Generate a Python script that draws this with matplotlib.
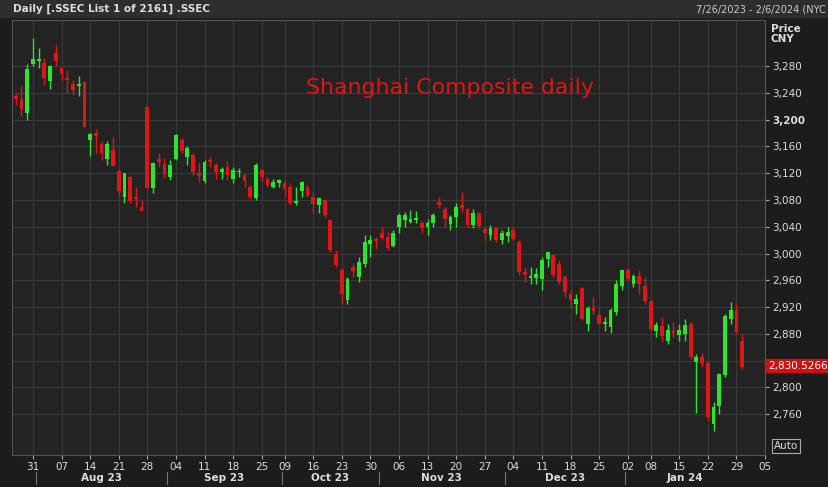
import matplotlib
matplotlib.use("Agg")
import matplotlib.pyplot as plt
import pandas as pd
from matplotlib.patches import Rectangle

dates = (list(pd.bdate_range("2023-07-26", "2023-09-28")) +
         list(pd.bdate_range("2023-10-09", "2023-12-29")) +
         list(pd.bdate_range("2024-01-02", "2024-01-30")))
opens = [3236,3231,3210,3283,3288,3285,3258,3300,3277,3262,3254,3250,3257,3170,3180,3163,3142,3155,3124,3085,3115,3085,3070,3219,3098,3142,3134,3115,3141,3170,3145,3148,3120,3108,3140,3132,3122,3130,3112,3122,3118,3100,3083,3125,3112,3100,3105,
         3106,3100,3075,3093,3100,3085,3072,3080,3050,3000,2975,2930,2980,2965,2985,3015,3022,3030,3025,3012,3040,3050,3047,3050,3045,3040,3046,3077,3066,3044,3055,3073,3066,3043,3060,3036,3028,3038,3021,3026,3035,3018,2972,2963,2964,2962,2992,2998,2985,2965,2940,2925,2948,2895,2918,2908,2895,2890,2912,2952,
         2975,2955,2966,2952,2929,2885,2892,2870,2885,2878,2880,2895,2838,2845,2836,2745,2772,2818,2902,2915,2870]
highs = [3240,3250,3284,3322,3307,3292,3282,3312,3278,3275,3260,3265,3258,3180,3186,3168,3168,3174,3127,3120,3116,3100,3080,3220,3137,3150,3143,3140,3178,3172,3160,3150,3136,3140,3145,3135,3130,3138,3130,3128,3120,3102,3135,3127,3115,3112,3112,
         3110,3106,3100,3108,3102,3092,3085,3082,3052,3005,2978,2965,2985,2995,3028,3028,3025,3040,3032,3035,3060,3062,3065,3063,3048,3052,3060,3085,3070,3058,3075,3092,3068,3066,3062,3040,3042,3040,3035,3040,3040,3020,2980,2980,2978,2995,3003,3000,2990,2968,2945,2940,2950,2922,2935,2915,2905,2918,2960,2976,
         2978,2970,2975,2965,2930,2898,2905,2895,2898,2895,2902,2897,2850,2852,2840,2778,2822,2910,2928,2925,2880]
lows = [3222,3205,3200,3280,3278,3252,3246,3280,3260,3240,3237,3235,3189,3146,3150,3140,3132,3131,3085,3075,3075,3070,3063,3098,3090,3130,3113,3110,3140,3150,3132,3118,3107,3106,3130,3112,3112,3110,3105,3115,3100,3082,3080,3108,3100,3098,3100,
        3085,3073,3073,3085,3085,3060,3060,3055,3003,2980,2924,2925,2965,2958,2980,2995,3007,3020,3005,3010,3030,3040,3045,3045,3030,3028,3040,3068,3040,3035,3040,3062,3040,3038,3038,3020,3020,3018,3015,3018,3020,2968,2958,2955,2955,2945,2980,2965,2955,2935,2918,2910,2900,2885,2910,2895,2885,2882,2908,2945,
        2960,2950,2940,2925,2885,2875,2870,2865,2875,2870,2870,2842,2762,2830,2752,2735,2760,2815,2895,2880,2828]
closes = [3231,3216,3276,3291,3290,3262,3280,3288,3268,3260,3245,3254,3189,3178,3176,3150,3163,3131,3093,3120,3078,3082,3064,3098,3135,3137,3119,3133,3177,3154,3158,3122,3116,3137,3137,3122,3126,3117,3125,3124,3108,3084,3132,3115,3102,3107,3110,
          3096,3076,3079,3107,3088,3074,3083,3058,3005,2983,2939,2962,2974,2988,3017,3021,3019,3023,3009,3030,3058,3057,3052,3053,3038,3046,3057,3073,3051,3054,3070,3068,3043,3061,3041,3031,3038,3021,3030,3032,3022,2972,2968,2966,2969,2991,3003,2968,2958,2942,2930,2932,2902,2918,2914,2895,2898,2915,2955,2975,
          2962,2967,2954,2929,2887,2893,2877,2886,2882,2886,2894,2845,2845,2836,2756,2770,2820,2906,2915,2883,2830]
yticks = list(range(2760, 3281, 40))
last_price = "2,830.5266"

n = len(dates)
BG = "#232323"
fig = plt.figure(figsize=(8.29, 4.87), dpi=100, facecolor="#1c1c1c")
W, H = 829, 487
ax = fig.add_axes([12/W, 1-455/H, (765-12)/W, (455-20)/H])
ax.set_facecolor(BG)
ax.set_xlim(-0.66, 130.3)
ax.set_ylim(2699, 3349)
GRN, RED = "#2ee52e", "#e01515"
for i in range(n):
    o, h, l, c = opens[i], highs[i], lows[i], closes[i]
    col = GRN if c >= o else RED
    ax.vlines(i, l, h, color=col, lw=1, zorder=3)
    ax.add_patch(Rectangle((i-0.33, min(o, c)), 0.66, max(abs(c-o), 1.2), color=col, zorder=4, lw=0))

wk = [i for i in range(n) if i == 0 or dates[i].isocalendar()[1] != dates[i-1].isocalendar()[1]]
wk = wk[1:]
pos = wk + [n-1+4]
labs = [f"{dates[i].day:02d}" for i in wk] + ["05"]
for p in pos:
    ax.axvline(p, color="#3a3a3a", lw=0.8, zorder=1)
for y in yticks:
    ax.axhline(y, color="#3a3a3a", lw=0.8, zorder=1)
ax.set_xticks(pos)
ax.set_xticklabels(labs, color="#dddddd", fontsize=7.5)
ax.yaxis.tick_right()
ax.set_yticks(yticks)
ax.set_yticklabels([f"{y:,}" if y != 2840 else "" for y in yticks], color="#dddddd", fontsize=7.5)
for t in ax.get_yticklabels():
    if t.get_text() == "3,200":
        t.set_fontweight("bold")
ax.tick_params(length=3, colors="#aaaaaa", labelcolor="#dddddd", pad=2)
for s in ax.spines.values():
    s.set_color("#555555")

months = {}
for i, d in enumerate(dates):
    months.setdefault((d.year, d.month), []).append(i)
for (yy, mm), idx in months.items():
    if mm == 7:
        continue
    mid = (idx[0] + idx[-1]) / 2
    ax.text(mid, -(478-455)/435, pd.Timestamp(yy, mm, 1).strftime("%b %y"), transform=ax.get_xaxis_transform(),
            ha="center", va="center", color="#dddddd", fontsize=7.5, fontweight="bold")
    ax.axvline(idx[0]-0.5, ymin=-(484-455)/435, ymax=-(472-455)/435, color="#777777", lw=0.8, clip_on=False)

ax.text(0.39, 0.83, "Shanghai Composite daily", transform=ax.transAxes, color="#e01515", fontsize=15.8)
fig.text(768/W, 1-366/H, last_price, color="white", fontsize=7.5, va="center",
         bbox=dict(boxstyle="square,pad=0.15", fc="#d01010", ec="none"))
fig.text(771/W, 1-34/H, "Price\nCNY", color="#dddddd", fontsize=7.5, fontweight="bold", va="center", linespacing=1.1)
fig.text(774/W, 1-446/H, "Auto", color="#dddddd", fontsize=7.5, va="center",
         bbox=dict(boxstyle="square,pad=0.2", fc="#1c1c1c", ec="#aaaaaa", lw=0.8))
fig.patches.append(Rectangle((0, 1-18/H), 1, 18/H, transform=fig.transFigure, fc="#2e2e2e", ec="none"))
fig.text(13/W, 1-9/H, "Daily [.SSEC List 1 of 2161] .SSEC", color="#dddddd", fontsize=7.5, fontweight="bold", va="center")
fig.text(826/W, 1-9/H, "7/26/2023 - 2/6/2024 (NYC", color="#cccccc", fontsize=7, va="center", ha="right")
fig.savefig("out.png", facecolor=fig.get_facecolor())
